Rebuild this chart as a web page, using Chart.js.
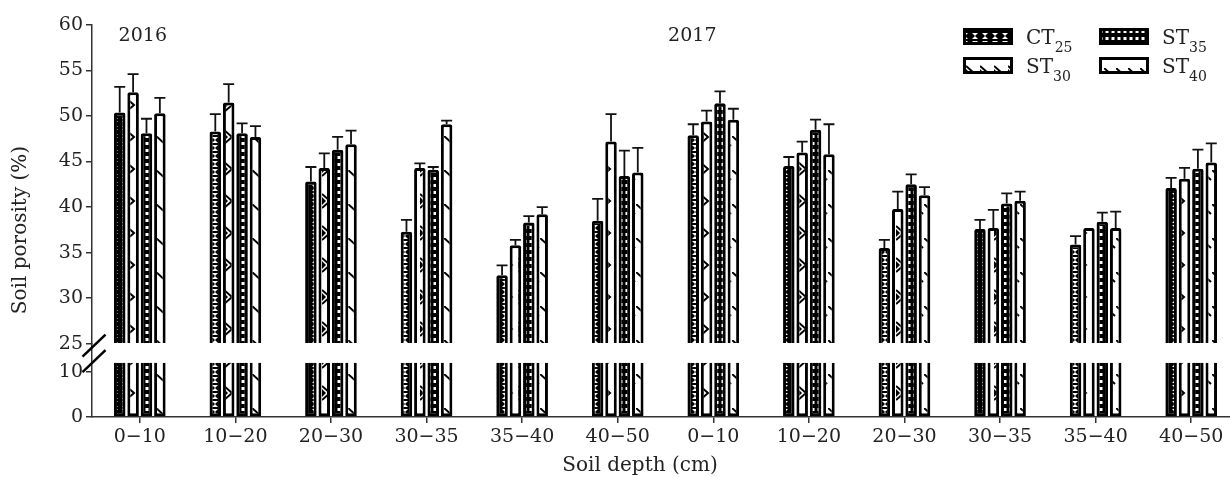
<!DOCTYPE html>
<html>
<head>
<meta charset="utf-8">
<script src="https://cdn.jsdelivr.net/npm/chart.js@4.4.1/dist/chart.umd.min.js"></script>
<style>
  html, body { margin: 0; padding: 0; background: #fff; overflow: hidden; }
  #wrap { position: relative; width: 1240px; height: 477px; }
</style>
</head>
<body>
<div id="wrap"><canvas id="chart"></canvas></div>
<script>
const depths = ["0\u221210", "10\u221220", "20\u221230", "30\u221235", "35\u221240", "40\u221250",
                "0\u221210", "10\u221220", "20\u221230", "30\u221235", "35\u221240", "40\u221250"];
const years = ["2016", "2017"];

const ct25    = [50.4, 48.3, 42.8, 37.3, 32.5, 38.5, 47.9, 44.5, 35.5, 37.6, 35.9, 42.1];
const ct25Err = [2.8, 1.9, 1.6, 1.3, 1.1, 2.4, 1.2, 1.0, 0.9, 1.0, 0.9, 1.1];
const st30    = [52.6, 51.5, 44.3, 44.3, 35.8, 47.2, 49.4, 46.0, 39.8, 37.7, 37.7, 43.1];
const st30Err = [2.0, 2.0, 1.6, 0.5, 0.6, 3.0, 1.2, 1.2, 1.9, 2.0, 0, 1.2];
const st35    = [48.1, 48.1, 46.3, 44.1, 38.3, 43.4, 51.4, 48.5, 42.5, 40.4, 38.4, 44.2];
const st35Err = [1.6, 1.1, 1.4, 0.3, 0.7, 2.8, 1.3, 1.1, 1.1, 1.1, 1.0, 2.1];
const st40    = [50.3, 47.7, 46.9, 49.1, 39.2, 43.8, 49.6, 45.8, 41.3, 40.7, 37.7, 44.9];
const st40Err = [1.7, 1.2, 1.5, 0.4, 0.8, 2.7, 1.2, 3.3, 0.9, 1.0, 1.8, 2.1];

const seriesNames = ["CT", "ST", "ST", "ST"];
const seriesSubs = ["25", "30", "35", "40"];

// axis break: upper part starts at 25, lower part shows 0..12
const breakTop = 25;
const breakLow = 12;

const FONT = "'DejaVu Serif', serif";
const INK = "#222";

// hatch patterns, one per treatment
function makePattern(w, h, draw) {
  const c = document.createElement("canvas");
  c.width = w; c.height = h;
  const g = c.getContext("2d");
  draw(g, w, h);
  return c.getContext("2d").createPattern(c, "repeat");
}
const patterns = [
  makePattern(10, 8, (g, w, h) => {   // CT25: white bowties on black
    g.fillStyle = "#000"; g.fillRect(0, 0, w, h);
    g.fillStyle = "#fff";
    g.beginPath(); g.moveTo(2, 1); g.lineTo(8, 1); g.lineTo(5, 4); g.closePath(); g.fill();
    g.beginPath(); g.moveTo(5, 4); g.lineTo(8, 7); g.lineTo(2, 7); g.closePath(); g.fill();
  }),
  makePattern(14, 32, (g, w, h) => {  // ST30: triangles on white
    g.fillStyle = "#fff"; g.fillRect(0, 0, w, h);
    g.strokeStyle = "#000"; g.lineWidth = 2;
    g.beginPath(); g.moveTo(0, 2); g.lineTo(8, 9); g.lineTo(0, 16); g.stroke();
    g.fillStyle = "#000";
    g.beginPath(); g.moveTo(0, 5); g.lineTo(4, 9); g.lineTo(0, 13); g.closePath(); g.fill();
  }),
  makePattern(6, 7, (g, w, h) => {    // ST35: white squares on black
    g.fillStyle = "#000"; g.fillRect(0, 0, w, h);
    g.fillStyle = "#fff"; g.fillRect(1.5, 2, 3, 3);
  }),
  makePattern(12, 34, (g, w, h) => {  // ST40: short slashes on white
    g.fillStyle = "#fff"; g.fillRect(0, 0, w, h);
    g.strokeStyle = "#000"; g.lineWidth = 2;
    g.beginPath(); g.moveTo(0, 0); g.lineTo(11, 10); g.stroke();
  })
];

const series = [
  { values: ct25, err: ct25Err },
  { values: st30, err: st30Err },
  { values: st35, err: st35Err },
  { values: st40, err: st40Err }
];

const barStyle = {
  borderColor: "#000",
  borderWidth: 3,
  categoryPercentage: 0.56,
  barPercentage: 0.86
};

const datasets = [];
series.forEach((s, i) => {
  datasets.push(Object.assign({
    data: s.values, yAxisID: "yTop", stack: "s" + i, base: breakTop,
    backgroundColor: patterns[i], borderSkipped: "start", borderRadius: 2
  }, barStyle));
});
series.forEach((s, i) => {
  datasets.push(Object.assign({
    data: s.values.map(v => Math.min(v, breakLow)), yAxisID: "yBottom", stack: "s" + i,
    backgroundColor: patterns[i], borderSkipped: "end"
  }, barStyle));
});

const extras = {
  id: "extras",
  afterDatasetsDraw(chart) {
    const ctx = chart.ctx;
    const yT = chart.scales.yTop;
    ctx.save();
    ctx.strokeStyle = "#111";
    ctx.lineWidth = 1.8;
    series.forEach((s, i) => {
      chart.getDatasetMeta(i).data.forEach((bar, j) => {
        const e = s.err[j];
        if (!e) return;
        const y0 = yT.getPixelForValue(s.values[j]);
        const y1 = yT.getPixelForValue(s.values[j] + e);
        ctx.beginPath();
        ctx.moveTo(bar.x, y0); ctx.lineTo(bar.x, y1);
        ctx.moveTo(bar.x - 5.5, y1); ctx.lineTo(bar.x + 5.5, y1);
        ctx.stroke();
      });
    });
    ctx.restore();
  },
  afterDraw(chart) {
    const ctx = chart.ctx;
    const area = chart.chartArea;
    const xS = chart.scales.x;
    const yT = chart.scales.yTop;
    ctx.save();

    // break marks on the y axis
    const bx = area.left + 2;
    const by = yT.bottom;
    ctx.strokeStyle = "#000";
    ctx.lineWidth = 2.5;
    [2, 17.5].forEach(dy => {
      ctx.beginPath();
      ctx.moveTo(bx - 11.5, by + dy + 11);
      ctx.lineTo(bx + 11.5, by + dy - 11);
      ctx.stroke();
    });

    // year labels
    ctx.fillStyle = INK;
    ctx.font = "19px " + FONT;
    ctx.textAlign = "center";
    ctx.textBaseline = "middle";
    ctx.fillText(years[0], xS.getPixelForValue(0) + 3, 36);
    ctx.fillText(years[1], xS.getPixelForValue(6) - 21, 36);

    // axis titles
    ctx.font = "20px " + FONT;
    ctx.fillText("Soil depth (cm)", 640, 466);
    ctx.save();
    ctx.translate(21, 230);
    ctx.rotate(-Math.PI / 2);
    ctx.fillText("Soil porosity (%)", 0, 0);
    ctx.restore();

    // legend
    seriesNames.forEach((name, i) => {
      const col = Math.floor(i / 2), row = i % 2;
      const x = 963 + col * 136, y = 28 + row * 29;
      ctx.fillStyle = patterns[i];
      ctx.fillRect(x, y, 50, 17);
      ctx.strokeStyle = "#000";
      ctx.lineWidth = 3;
      ctx.strokeRect(x + 1.5, y + 1.5, 47, 14);
      ctx.fillStyle = INK;
      ctx.textAlign = "left";
      ctx.textBaseline = "alphabetic";
      ctx.font = "20px " + FONT;
      ctx.fillText(name, x + 63, y + 16);
      const w = ctx.measureText(name).width;
      ctx.font = "14px " + FONT;
      ctx.fillText(seriesSubs[i], x + 63 + w, y + 24);
    });
    ctx.restore();
  }
};

const yGrid = { drawOnChartArea: false, drawTicks: true, tickLength: 6, color: "#333", lineWidth: 1.5 };
const yBorder = { color: "#333", width: 1.5 };

new Chart(document.getElementById("chart"), {
  type: "bar",
  data: { labels: depths, datasets: datasets },
  options: {
    responsive: true,
    maintainAspectRatio: false,
    animation: false,
    layout: { padding: { top: 25, right: 1, left: 0, bottom: 0 } },
    plugins: { legend: { display: false }, tooltip: { enabled: false } },
    scales: {
      x: {
        stacked: true,
        grid: { offset: false, drawOnChartArea: false, tickLength: 6, color: "#333", lineWidth: 1.5 },
        border: { color: "#333", width: 1.5 },
        ticks: { color: INK, font: { family: FONT, size: 19 }, padding: 3, maxRotation: 0, autoSkip: false },
        afterFit: s => { s.height = 60; }
      },
      // left boxes are stacked in reverse order, so the lower segment comes first
      yBottom: {
        type: "linear", position: "left", stack: "y", stackWeight: 73,
        min: 0, max: 16.2,
        afterBuildTicks: s => { s.ticks = [{ value: 0 }, { value: 10 }]; },
        ticks: { color: INK, font: { family: FONT, size: 19 }, padding: 3 },
        grid: yGrid, border: yBorder,
        afterFit: s => { s.width = 92; }
      },
      yTop: {
        type: "linear", position: "left", stack: "y", stackWeight: 317,
        min: breakTop, max: 60,
        ticks: { stepSize: 5, color: INK, font: { family: FONT, size: 19 }, padding: 3 },
        grid: yGrid, border: yBorder,
        afterFit: s => { s.width = 92; }
      }
    }
  },
  plugins: [extras]
});
</script>
</body>
</html>
